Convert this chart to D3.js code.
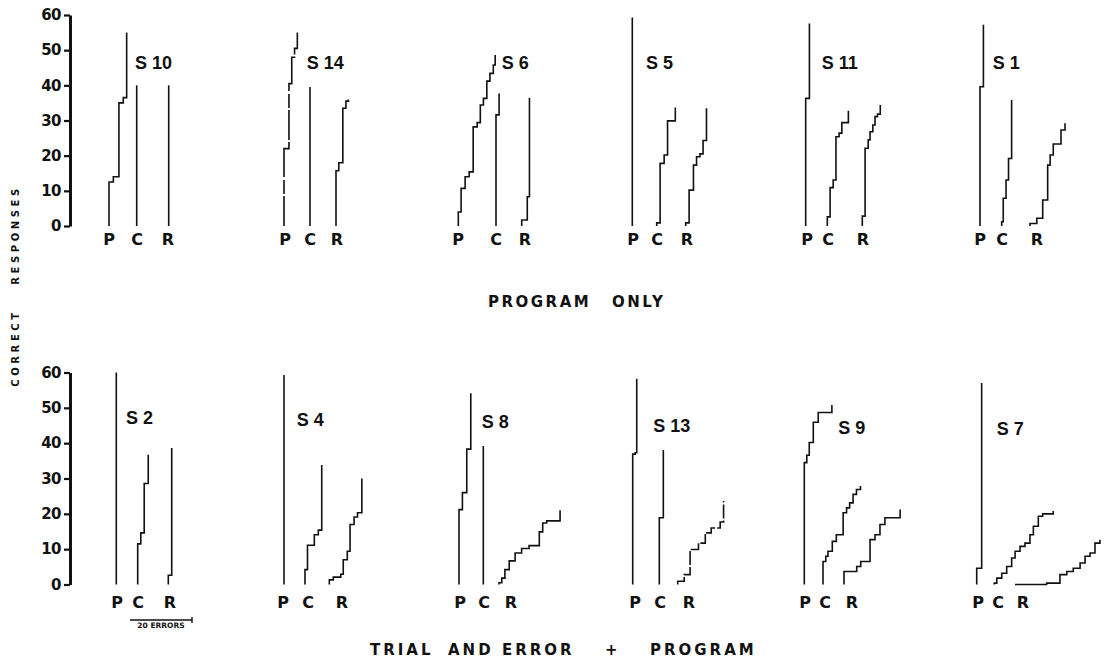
<!DOCTYPE html>
<html>
<head>
<meta charset="utf-8">
<script src="https://cdn.jsdelivr.net/npm/d3@7"></script>
<style>
  body { margin: 0; background: #fff; }
  svg { display: block; }
</style>
</head>
<body>
<div id="chart"></div>
<script>
// Cumulative records: each point is [errors so far, correct responses so far]
const curveNames = ['P', 'C', 'R'];
const yTicks = [0, 10, 20, 30, 40, 50, 60];
const subjectsTop = ['S 10', 'S 14', 'S 6', 'S 5', 'S 11', 'S 1'];
const subjectsBottom = ['S 2', 'S 4', 'S 8', 'S 13', 'S 9', 'S 7'];

const s10 = [
    [[0,0],[0,12.5],[1.4,14],[3.2,35],[4.6,36.5],[5.7,55]],
    [[0,0],[0,40]],
    [[0,0],[0,40]]
];
const s14 = [
    [[0,0],[0,22],[1.6,40.5],[2.5,48],[3.4,50.5],[4.3,55]],
    [[0,0],[0,39.5]],
    [[0,0],[0,15.7],[0.9,18],[2.2,33.5],[3.2,35.5],[4.0,36]]
];
const s6 = [
    [[0,0],[0,4],[0.9,10.7],[2.2,14],[3.5,15.4],[4.8,28.2],[6.1,29.4],[7.1,34.4],[8.1,36.3],[9.2,41.2],[10.2,43.4],[11.3,45.8],[11.9,48.6]],
    [[0,0],[0,31.6],[1.0,37.7]],
    [[0,0],[0,1.7],[1.8,8.3],[2.5,36.5]]
];
const s5 = [
    [[0,0],[0,59.3]],
    [[0,0],[0,0.9],[1.1,17.8],[2.4,20.2],[3.5,29.9],[6.0,33.7]],
    [[0,0],[0,0.9],[1.1,10.2],[2.5,17.3],[3.5,19.7],[4.6,20.5],[5.6,24.3],[6.7,33.5]]
];
const s11 = [
    [[0,0],[0,36.3],[1.2,57.6]],
    [[0,0],[0,2.6],[0.9,10.9],[1.9,13.1],[2.8,25.4],[3.8,26.4],[4.7,29.4],[6.8,32.8]],
    [[0,0],[0,2.8],[0.9,22.1],[1.9,24.5],[2.5,26.8],[3.4,28.7],[4.1,31.1],[4.9,31.8],[5.8,34.4]]
];
const s1 = [
    [[0,0],[0,39.6],[1.1,57.2]],
    [[0,0],[0,1.2],[0.5,7.9],[1.4,13.1],[2.2,19.2],[3.2,35.8]],
    [[0,0],[0,0.7],[2.2,2.2],[4.1,7.4],[5.7,17.3],[6.5,20.2],[7.5,23.3],[10,27.3],[11.3,29.2]]
];
const s2 = [
    [[0,0],[0,60]],
    [[0,0],[0,11.5],[1.0,14.6],[2.1,28.6],[3.4,36.7]],
    [[0,0],[0,2.6],[1.1,38.6]]
];
const s4 = [
    [[0,0],[0,59.3]],
    [[0,0],[0,4.2],[0.8,11.1],[3.0,14.1],[4.3,15.4],[5.4,33.8]],
    [[0,0],[0,1.3],[1.3,2.1],[3.7,2.9],[4.5,7.0],[5.8,9.4],[6.7,17.0],[8.0,19.1],[9.1,20.3],[10.5,30]]
];
const s8 = [
    [[0,0],[0,21.2],[1.1,26],[2.5,38.3],[3.8,54.1]],
    [[0,0],[0,39.2]],
    [[0,0],[0,0.5],[0.9,1.8],[1.9,4.2],[3.3,6.7],[5.2,8.9],[7.3,10.2],[9.7,11],[13,14.9],[14.1,17.4],[15.4,18],[19.7,21]]
];
const s13 = [
    [[0,0],[0,36.9],[0.8,37.3],[1.3,58.2]],
    [[0,0],[0,18.9],[1.3,38.1]],
    [[0,0],[0,0.9],[2.1,2.8],[4.0,9.9],[6.7,11.7],[8.9,14.6],[10.8,16],[13.7,17.7],[14.8,23.6]]
];
const s9 = [
    [[0,0],[0,34.5],[0.8,36.6],[1.6,40.2],[2.9,45.9],[4.5,48.7],[8.9,50.8]],
    [[0,0],[0,6.5],[0.9,8],[1.6,9.4],[3.0,12.2],[4.3,14.1],[6.5,20.3],[7.6,21.7],[8.6,23.1],[9.7,25.5],[10.8,26.9],[12.1,27.9]],
    [[0,0],[0,3.7],[4.1,5.1],[5.4,6.5],[8.4,12.7],[10,14.1],[11.6,17],[13.2,18.9],[18.1,21.2]]
];
const s7 = [
    [[0,0],[0,4.6],[1.6,57]],
    [[0,0],[0,0.4],[0.8,1.8],[2.4,3.2],[4.0,5.1],[5.6,7.5],[6.7,9.4],[8.3,10.8],[9.9,11.7],[11.5,14.1],[12.6,16.5],[14.2,19.3],[15.6,20],[19,20.8]],
    [[0,0],[10.2,0.4],[14.5,2.8],[16.7,3.7],[18.8,4.6],[21,6.1],[22.6,8],[24.2,8.9],[25.8,11.7],[27.4,12.7]]
];

const recordsTop = [s10, s14, s6, s5, s11, s1];
const recordsBottom = [s2, s4, s8, s13, s9, s7];

var state = {
    width: 1107,
    height: 668,
    ink: '#111',
    bold: '"DejaVu Sans", "Open Sans", sans-serif',
    tagFont: '"Liberation Sans", Arial, sans-serif',
    axisX: 70
};

// where each panel sits on the page
var rows = [
    {
        y0: 226, y60: 15, letterY: 245,
        curveX: [[109,136.7,168.7],[284,310,336],[458.3,496,521.7],[632.3,656.7,685.7],[805.7,827.3,862.3],[980,1001.7,1030]],
        letterX: [[109,137,168],[285,310,337],[458,496,525],[633,657,687],[807,828,863],[980,1002,1037]],
        tagX: [135,306.7,501.7,646,821.7,992.7],
        tagY: [69,69,69,69,69,69]
    },
    {
        y0: 584.5, y60: 372.5, letterY: 608,
        curveX: [[116.3,137.7,168.3],[284,305,329.3],[459,483.3,499],[632.7,659.3,677.7],[804.3,823,844],[976.7,994.3,1015]],
        letterX: [[117,138,170],[283,308,342],[460,484,511],[635,660,689],[805,825,852],[978,998,1023]],
        tagX: [126,296.7,481.7,653.3,838.3,996.7],
        tagY: [424,426,428,431.5,434,435]
    }
];

// broken-looking traces in the original print
var dashed = {'0-1-0': '30,2,14,3,40,2', '1-3-2': '14,2'};

const errScale = d3.scaleLinear().domain([0, 20]).range([0, 62]);

let svg = d3.select('#chart')
    .append('svg')
        .attr('width', state.width)
        .attr('height', state.height)
        .style('background', '#fff');

drawRow(0, rows[0], recordsTop, subjectsTop);
drawRow(1, rows[1], recordsBottom, subjectsBottom);
drawTitles();

/**
Draws one row: its axis, the three records of every subject and the labels
*/
function drawRow(r, row, records, subjects){
    let y = d3.scaleLinear().domain([0, 60]).range([row.y0, row.y60]);

    let axis = svg.append('g')
        .attr('transform', `translate(${state.axisX},0)`)
        .call(d3.axisLeft(y).tickValues(yTicks).tickSize(6).tickSizeOuter(0).tickPadding(3));
    axis.select('.domain')
        .attr('stroke', state.ink)
        .attr('stroke-width', 3);
    axis.selectAll('.tick line')
        .attr('stroke', state.ink)
        .attr('stroke-width', 2.2);
    axis.selectAll('.tick text')
        .attr('font-family', state.bold)
        .attr('font-weight', 'bold')
        .attr('font-size', 15)
        .attr('letter-spacing', -0.5)
        .attr('fill', state.ink);

    records.forEach((rec, i) => {
        let g = svg.append('g');

        rec.forEach((pts, k) => {
            let line = d3.line()
                .x(d => row.curveX[i][k] + errScale(d[0]))
                .y(d => y(d[1]))
                .curve(d3.curveStepAfter);

            g.append('path')
                .attr('d', line(pts))
                .attr('fill', 'none')
                .attr('stroke', state.ink)
                .attr('stroke-width', 1.6)
                .attr('stroke-dasharray', dashed[r + '-' + i + '-' + k] || null);
        });

        g.selectAll('text.letter')
            .data(curveNames)
            .enter()
            .append('text')
                .attr('class', 'letter')
                .attr('x', (d, k) => row.letterX[i][k])
                .attr('y', row.letterY)
                .attr('text-anchor', 'middle')
                .attr('font-family', state.bold)
                .attr('font-weight', 'bold')
                .attr('font-size', 16)
                .attr('fill', state.ink)
                .text(d => d);

        g.append('text')
            .attr('x', row.tagX[i])
            .attr('y', row.tagY[i])
            .attr('font-family', state.tagFont)
            .attr('font-weight', 'bold')
            .attr('font-size', 18)
            .attr('fill', state.ink)
            .text(subjects[i]);
    });
}

function drawTitles(){
    // y axis title
    svg.append('text')
        .attr('transform', 'translate(19,348) rotate(-90)')
        .attr('text-anchor', 'middle')
        .attr('font-family', state.bold)
        .attr('font-weight', 'bold')
        .attr('font-size', 10)
        .attr('letter-spacing', 3.6)
        .attr('fill', state.ink)
        .text('CORRECT');
    svg.append('text')
        .attr('transform', 'translate(19,235) rotate(-90)')
        .attr('text-anchor', 'middle')
        .attr('font-family', state.bold)
        .attr('font-weight', 'bold')
        .attr('font-size', 10)
        .attr('letter-spacing', 3.6)
        .attr('fill', state.ink)
        .text('RESPONSES');

    let top = svg.append('text')
        .attr('y', 307)
        .attr('font-family', state.bold)
        .attr('font-weight', 'bold')
        .attr('font-size', 15)
        .attr('letter-spacing', 2.5)
        .attr('fill', state.ink);
    top.append('tspan').attr('x', 488).text('PROGRAM');
    top.append('tspan').attr('x', 612).text('ONLY');

    let bottom = svg.append('text')
        .attr('y', 655)
        .attr('font-family', state.bold)
        .attr('font-weight', 'bold')
        .attr('font-size', 15)
        .attr('letter-spacing', 3)
        .attr('fill', state.ink);
    bottom.append('tspan').attr('x', 370).text('TRIAL');
    bottom.append('tspan').attr('x', 448).text('AND');
    bottom.append('tspan').attr('x', 502).text('ERROR');
    bottom.append('tspan').attr('x', 605).text('+');
    bottom.append('tspan').attr('x', 650).text('PROGRAM');

    // scale bar for the error axis
    let bx = 130, by = 620;
    svg.append('line')
        .attr('x1', bx).attr('x2', bx + errScale(20))
        .attr('y1', by).attr('y2', by)
        .attr('stroke', state.ink)
        .attr('stroke-width', 1.6);
    svg.append('line')
        .attr('x1', bx + errScale(20)).attr('x2', bx + errScale(20))
        .attr('y1', by - 3).attr('y2', by + 3)
        .attr('stroke', state.ink)
        .attr('stroke-width', 1.4);
    svg.append('text')
        .attr('x', bx + errScale(10))
        .attr('y', by + 8)
        .attr('text-anchor', 'middle')
        .attr('font-family', state.bold)
        .attr('font-weight', 'bold')
        .attr('font-size', 7.5)
        .attr('fill', state.ink)
        .text('20 ERRORS');
}
</script>
</body>
</html>
